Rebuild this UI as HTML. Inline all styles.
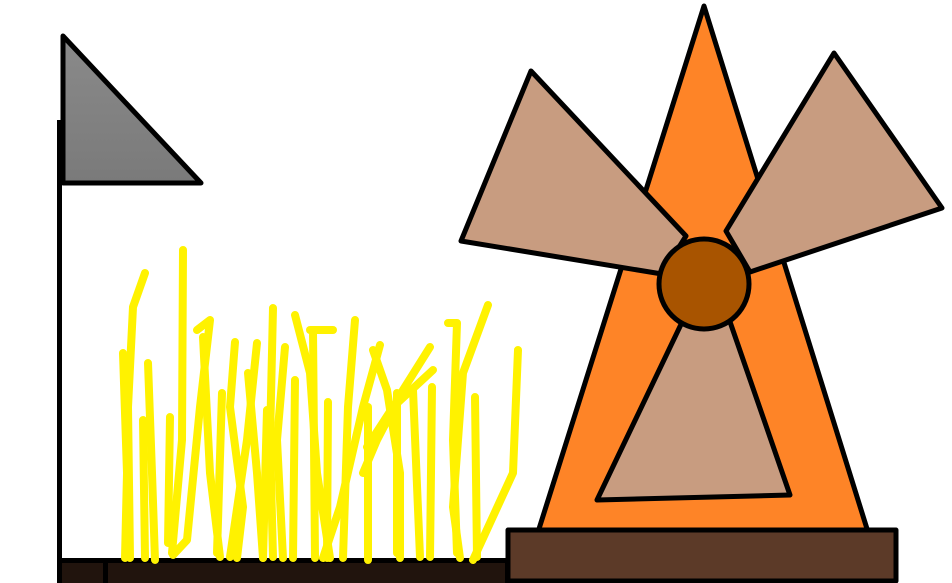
<!DOCTYPE html>
<html><head><meta charset="utf-8"><style>html,body{margin:0;padding:0;background:#fff}svg{display:block}</style></head>
<body>
<svg width="952" height="583" viewBox="0 0 952 583" xmlns="http://www.w3.org/2000/svg">
<defs><linearGradient id="fg" x1="0" y1="0" x2="0" y2="1"><stop offset="0" stop-color="#8a8a8a"/><stop offset="1" stop-color="#7a7a7a"/></linearGradient></defs>
<rect width="952" height="583" fill="#fff"/>
<g>
<rect x="57" y="120" width="5" height="463" fill="#000"/>
<polygon points="63,36 63,183 201,183" fill="url(#fg)" stroke="#000" stroke-width="5" stroke-linejoin="round"/>
</g>
<g>
<rect x="57" y="558" width="450" height="25" fill="#000"/>
<rect x="62" y="563" width="41" height="20" fill="#21140d"/>
<rect x="108" y="563" width="397" height="20" fill="#21140d"/>
</g>
<g fill="none" stroke="#fff200" stroke-width="8" stroke-linecap="round" stroke-linejoin="round">
<polyline points="145,273 133,307 128,407 130,558"/>
<polyline points="123,353 127,473 125,558"/>
<polyline points="148,363 152,473 155,560"/>
<polyline points="143,420 145,558"/>
<polyline points="183,250 182,440 172,553"/>
<polyline points="170,417 168,543"/>
<polyline points="197,330 210,320 200,407 187,540 173,555"/>
<polyline points="203,337 210,473 220,557"/>
<polyline points="222,393 217,553"/>
<polyline points="235,342 230,407 243,507 237,558"/>
<polyline points="248,373 257,473 263,558"/>
<polyline points="257,343 247,440 230,557"/>
<polyline points="273,308 270,440 273,557"/>
<polyline points="267,410 263,558"/>
<polyline points="285,347 277,440 283,558"/>
<polyline points="295,315 310,373 317,473 330,558"/>
<polyline points="295,380 293,558"/>
<polyline points="310,330 333,330"/>
<polyline points="313,330 315,558"/>
<polyline points="328,402 327,558"/>
<polyline points="355,320 348,407 343,558"/>
<polyline points="380,345 363,407 340,507 323,558"/>
<polyline points="373,350 387,390 400,473 400,558"/>
<polyline points="368,407 368,560"/>
<polyline points="430,347 403,390 377,440 363,473"/>
<polyline points="433,370 393,407 367,447"/>
<polyline points="397,393 397,553"/>
<polyline points="432,387 430,557"/>
<polyline points="413,390 420,557"/>
<polyline points="448,323 457,323 453,440 457,553"/>
<polyline points="488,305 463,373 453,507 460,558"/>
<polyline points="475,397 477,557"/>
<polyline points="518,350 513,473 473,560"/>
</g>
<g stroke="#000" stroke-width="5" stroke-linejoin="round">
<polygon points="704,6 538,532 868,532" fill="#fe8427"/>
<rect x="508" y="530" width="388" height="51" fill="#5c3a28"/>
<polygon points="531,71 461,241 662,274 686,236" fill="#c89c80"/>
<polygon points="834,53 942,208 750,272 726,231" fill="#c89c80"/>
<polygon points="685,316 728,316 790,495 597,500" fill="#c89c80"/>
<circle cx="704" cy="284" r="45" fill="#a85400"/>
</g>
</svg>
</body></html>
